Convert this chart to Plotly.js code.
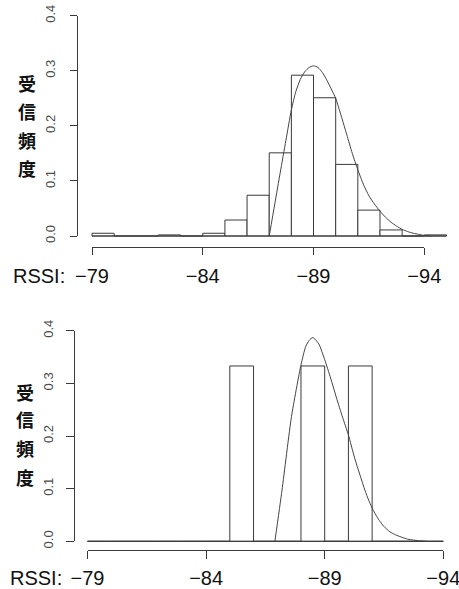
<!DOCTYPE html>
<html>
<head>
<meta charset="utf-8">
<script src="https://cdn.plot.ly/plotly-3.0.1.min.js"></script>
<style>html,body{margin:0;padding:0;background:#fff;}#chart{width:459px;height:589px;}</style>
</head>
<body>
<div id="chart"></div>
<script>
// ---------- data ----------
const xTickVals = [-79, -84, -89, -94];
const xTickText = ['\u221279', '\u221284', '\u221289', '\u221294'];
const yTickVals = [0, 0.1, 0.2, 0.3, 0.4];
const yTickText = ['0.0', '0.1', '0.2', '0.3', '0.4'];
const yTitleChars = ['受', '信', '頻', '度'];
const xPrefix = 'RSSI:';

// top histogram (bins of width 1, edges -79 ... -95)
const topBinCenters = [-79.5, -80.5, -81.5, -82.5, -83.5, -84.5, -85.5, -86.5, -87.5, -88.5, -89.5, -90.5, -91.5, -92.5, -93.5, -94.5];
const topDensity    = [0.005, 0, 0, 0.002, 0, 0.005, 0.029, 0.074, 0.151, 0.292, 0.251, 0.130, 0.047, 0.011, 0, 0.002];
const topCurveX = [-87.0, -87.25, -87.5, -87.75, -88.0, -88.2, -88.4, -88.6, -88.8, -89.0, -89.2, -89.4, -89.6, -89.8, -90.0, -90.25, -90.5, -90.75, -91.0, -91.25, -91.5, -91.75, -92.0, -92.25, -92.5, -92.75, -93.0, -93.25, -93.5, -93.75, -94.0, -94.3];
const topCurveY = [0.000, 0.058, 0.116, 0.173, 0.229, 0.262, 0.284, 0.298, 0.306, 0.309, 0.306, 0.297, 0.283, 0.267, 0.250, 0.218, 0.184, 0.150, 0.120, 0.094, 0.073, 0.058, 0.045, 0.034, 0.025, 0.018, 0.012, 0.008, 0.005, 0.003, 0.001, 0.000];

// bottom histogram (bins of width 1, edges -79 ... -94)
const botBinCenters = [-79.5, -80.5, -81.5, -82.5, -83.5, -84.5, -85.5, -86.5, -87.5, -88.5, -89.5, -90.5, -91.5, -92.5, -93.5];
const botDensity    = [0, 0, 0, 0, 0, 0, 0.333, 0, 0, 0.333, 0, 0.333, 0, 0, 0];
const botCurveX = [-86.9, -87.2, -87.6, -88.0, -88.2, -88.35, -88.5, -88.75, -89.0, -89.25, -89.5, -89.75, -90.0, -90.25, -90.5, -90.75, -91.0, -91.25, -91.5, -91.75, -92.0, -92.5, -93.0, -93.3];
const botCurveY = [0.000, 0.097, 0.237, 0.335, 0.370, 0.382, 0.387, 0.375, 0.345, 0.310, 0.272, 0.236, 0.202, 0.160, 0.124, 0.090, 0.063, 0.043, 0.028, 0.018, 0.012, 0.004, 0.001, 0.000];

// ---------- layout helpers (pixel geometry) ----------
const W = 459, H = 589;
const LINE = '#3a3a3a';
const XFONT = 'Liberation Sans Narrow, Liberation Sans, Arial, sans-serif';
function lin(p, p0, p1, v0, v1) { return v0 + (p - p0) * (v1 - v0) / (p1 - p0); }
function panel(g) {
  const xr = [lin(g.dataX[0], g.x0px, g.x1px, -79, -94), lin(g.dataX[1], g.x0px, g.x1px, -79, -94)];
  const yr = [lin(g.dataY[1], g.y0px, g.y1px, 0, 0.4), lin(g.dataY[0], g.y0px, g.y1px, 0, 0.4)];
  return {
    dataX: {domain: [g.dataX[0] / W, g.dataX[1] / W], range: xr, visible: false, fixedrange: true},
    dataY: {domain: [1 - g.dataY[1] / H, 1 - g.dataY[0] / H], range: yr, visible: false, fixedrange: true},
    visX: {domain: [g.x0px / W, g.x1px / W], range: [-79, -94], anchor: 'free', position: 1 - g.axisY / H,
      showline: true, linecolor: LINE, linewidth: 1, ticks: 'outside', ticklen: g.tl, tickcolor: LINE, tickwidth: 1,
      showgrid: false, zeroline: false, tickmode: 'array', tickvals: xTickVals, ticktext: xTickText,
      tickfont: {family: XFONT, size: 20, color: '#111'}, ticklabeloverflow: 'allow',
      ticklabelstandoff: g.xstand, fixedrange: true},
    visY: {domain: [1 - g.y0px / H, 1 - g.y1px / H], range: [0, 0.4], anchor: 'free', position: g.axisX / W,
      showline: true, linecolor: LINE, linewidth: 1, ticks: 'outside', ticklen: g.tl, tickcolor: LINE, tickwidth: 1,
      showgrid: false, zeroline: false, tickmode: 'array', tickvals: yTickVals, ticktext: yTickText, tickangle: -90,
      tickfont: {family: 'Liberation Sans, Arial, sans-serif', size: 13, color: '#4a4a4a'},
      ticklabelstandoff: g.ystand, fixedrange: true}
  };
}
const TOP = panel({x0px: 92, x1px: 424.3, y0px: 236, y1px: 15.7, axisY: 246.7, axisX: 76.7, tl: 7,
  dataX: [80, 455], dataY: [5, 244], xstand: 4, ystand: 10});
const BOT = panel({x0px: 87.5, x1px: 443.3, y0px: 541.3, y1px: 330.7, axisY: 550, axisX: 74, tl: 8,
  dataX: [75, 455], dataY: [320, 548], xstand: 2, ystand: 8});

function histTraces(centers, dens, cx, cy, xa, ya) {
  const edgesLo = centers[0] + 0.5, edgesHi = centers[centers.length - 1] - 0.5;
  return [
    {type: 'scatter', mode: 'lines', x: [edgesLo, edgesHi], y: [0, 0], xaxis: xa, yaxis: ya,
      line: {color: LINE, width: 1}, hoverinfo: 'skip', showlegend: false},
    {type: 'bar', x: centers, y: dens, width: 1, xaxis: xa, yaxis: ya,
      marker: {color: 'rgba(255,255,255,1)', line: {color: LINE, width: 1}}, showlegend: false},
    {type: 'scatter', mode: 'lines', x: cx, y: cy, xaxis: xa, yaxis: ya, line: {color: '#444', width: 1, shape: 'spline', smoothing: 0.6},
      showlegend: false, cliponaxis: false}
  ];
}

const data = [].concat(
  histTraces(topBinCenters, topDensity, topCurveX, topCurveY, 'x', 'y'),
  histTraces(botBinCenters, botDensity, botCurveX, botCurveY, 'x2', 'y2'),
  [{type: 'scatter', x: [], y: [], xaxis: 'x3', yaxis: 'y3', showlegend: false, hoverinfo: 'skip'},
   {type: 'scatter', x: [], y: [], xaxis: 'x4', yaxis: 'y4', showlegend: false, hoverinfo: 'skip'}]
);

const annotations = [];
function addTitle(centersPx, xPx, prefixPx) {
  yTitleChars.forEach((c, i) => annotations.push({text: '<b>' + c + '</b>', xref: 'paper', yref: 'paper',
    x: xPx / W, y: 1 - centersPx[i] / H, xanchor: 'center', yanchor: 'middle', showarrow: false,
    font: {family: 'Noto Sans CJK JP, sans-serif', size: 18, color: '#111'}}));
  annotations.push({text: xPrefix, xref: 'paper', yref: 'paper', x: prefixPx[0] / W, y: 1 - prefixPx[1] / H,
    xanchor: 'right', yanchor: 'middle', showarrow: false,
    font: {family: XFONT, size: 20, color: '#111'}});
}
addTitle([83, 111, 140, 168], 27, [67, 276]);
addTitle([392, 419, 448, 477], 25, [64, 578]);

const layout = {
  width: W, height: H, margin: {l: 0, r: 0, t: 0, b: 0, pad: 0},
  paper_bgcolor: '#fff', plot_bgcolor: 'rgba(0,0,0,0)', showlegend: false, bargap: 0,
  xaxis: TOP.dataX, yaxis: TOP.dataY, xaxis2: BOT.dataX, yaxis2: BOT.dataY,
  xaxis3: TOP.visX, yaxis3: TOP.visY, xaxis4: BOT.visX, yaxis4: BOT.visY,
  annotations: annotations
};
Plotly.newPlot('chart', data, layout, {staticPlot: true, displayModeBar: false});
</script>
</body>
</html>
